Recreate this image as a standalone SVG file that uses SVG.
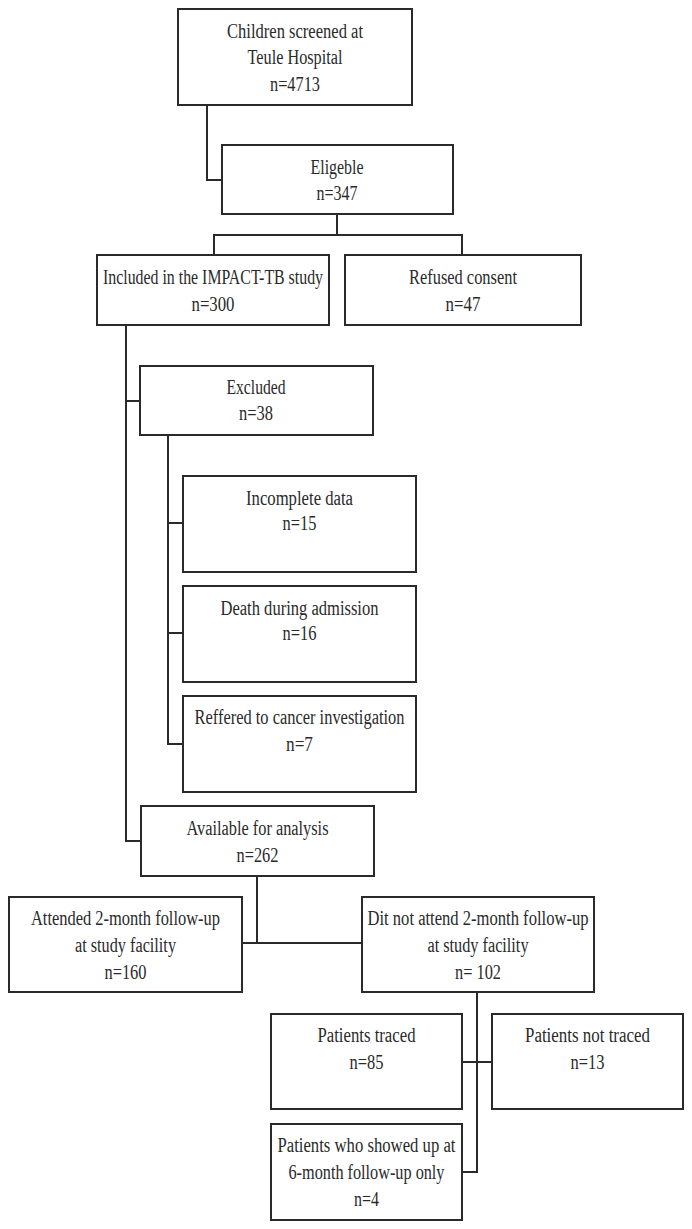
<svg xmlns="http://www.w3.org/2000/svg" width="692" height="1229" viewBox="0 0 692 1229">
<style>
.box{fill:#fff;stroke:#2a2a2a;stroke-width:2}
.ln{fill:none;stroke:#2a2a2a;stroke-width:2}
text{font-family:"Liberation Serif","Times New Roman",serif;font-size:20px;fill:#2a2a2a;text-anchor:middle}
</style>
<rect width="692" height="1229" fill="#fff"/>
<g id="connectors">
<polyline class="ln" points="207,105 207,180 222,180"/>
<polyline class="ln" points="337,214 337,235"/>
<polyline class="ln" points="214,255 214,235 462,235 462,255"/>
<polyline class="ln" points="126,325 126,841 141,841"/>
<polyline class="ln" points="126,401 140,401"/>
<polyline class="ln" points="168,435 168,744 183,744"/>
<polyline class="ln" points="168,523 183,523"/>
<polyline class="ln" points="168,633 183,633"/>
<polyline class="ln" points="257,876 257,943"/>
<polyline class="ln" points="242,943 362,943"/>
<polyline class="ln" points="477,992 477,1172 462,1172"/>
<polyline class="ln" points="462,1062 492,1062"/>
</g>
<g id="screened">
<rect class="box" x="178" y="9" width="234" height="96"/>
<text x="295" y="38" textLength="136" lengthAdjust="spacingAndGlyphs">Children screened at</text>
<text x="295" y="64" textLength="95" lengthAdjust="spacingAndGlyphs">Teule Hospital</text>
<text x="295" y="91" textLength="50" lengthAdjust="spacingAndGlyphs">n=4713</text>
</g>
<g id="eligible">
<rect class="box" x="222" y="145" width="231" height="69"/>
<text x="337" y="174" textLength="53" lengthAdjust="spacingAndGlyphs">Eligeble</text>
<text x="337" y="200" textLength="41" lengthAdjust="spacingAndGlyphs">n=347</text>
</g>
<g id="included">
<rect class="box" x="97" y="255" width="232" height="70"/>
<text x="213" y="284" textLength="220" lengthAdjust="spacingAndGlyphs">Included in the IMPACT-TB study</text>
<text x="213" y="311" textLength="43" lengthAdjust="spacingAndGlyphs">n=300</text>
</g>
<g id="refused">
<rect class="box" x="345" y="255" width="236" height="70"/>
<text x="463" y="284" textLength="108" lengthAdjust="spacingAndGlyphs">Refused consent</text>
<text x="463" y="311" textLength="35" lengthAdjust="spacingAndGlyphs">n=47</text>
</g>
<g id="excluded">
<rect class="box" x="140" y="366" width="233" height="69"/>
<text x="256" y="394" textLength="59" lengthAdjust="spacingAndGlyphs">Excluded</text>
<text x="256" y="420" textLength="34" lengthAdjust="spacingAndGlyphs">n=38</text>
</g>
<g id="incomplete">
<rect class="box" x="183" y="476" width="233" height="96"/>
<text x="299.5" y="505" textLength="107" lengthAdjust="spacingAndGlyphs">Incomplete data</text>
<text x="299.5" y="530" textLength="34" lengthAdjust="spacingAndGlyphs">n=15</text>
</g>
<g id="death">
<rect class="box" x="183" y="586" width="233" height="96"/>
<text x="299.5" y="615" textLength="158" lengthAdjust="spacingAndGlyphs">Death during admission</text>
<text x="299.5" y="640" textLength="34" lengthAdjust="spacingAndGlyphs">n=16</text>
</g>
<g id="referred">
<rect class="box" x="183" y="696" width="233" height="96"/>
<text x="299.5" y="724" textLength="210" lengthAdjust="spacingAndGlyphs">Reffered to cancer investigation</text>
<text x="299.5" y="751" textLength="27" lengthAdjust="spacingAndGlyphs">n=7</text>
</g>
<g id="available">
<rect class="box" x="141" y="806" width="233" height="70"/>
<text x="257.5" y="835" textLength="142" lengthAdjust="spacingAndGlyphs">Available for analysis</text>
<text x="257.5" y="862" textLength="42" lengthAdjust="spacingAndGlyphs">n=262</text>
</g>
<g id="attended">
<rect class="box" x="9" y="897" width="233" height="95"/>
<text x="125.5" y="925" textLength="189" lengthAdjust="spacingAndGlyphs">Attended 2-month follow-up</text>
<text x="125.5" y="952" textLength="101" lengthAdjust="spacingAndGlyphs">at study facility</text>
<text x="125.5" y="979" textLength="42" lengthAdjust="spacingAndGlyphs">n=160</text>
</g>
<g id="notattended">
<rect class="box" x="362" y="897" width="232" height="95"/>
<text x="478" y="925" textLength="221" lengthAdjust="spacingAndGlyphs">Dit not attend 2-month follow-up</text>
<text x="478" y="952" textLength="101" lengthAdjust="spacingAndGlyphs">at study facility</text>
<text x="478" y="979" textLength="46" lengthAdjust="spacingAndGlyphs">n= 102</text>
</g>
<g id="traced">
<rect class="box" x="271" y="1014" width="191" height="95"/>
<text x="366.5" y="1042" textLength="98" lengthAdjust="spacingAndGlyphs">Patients traced</text>
<text x="366.5" y="1069" textLength="34" lengthAdjust="spacingAndGlyphs">n=85</text>
</g>
<g id="nottraced">
<rect class="box" x="492" y="1014" width="191" height="95"/>
<text x="587.5" y="1042" textLength="125" lengthAdjust="spacingAndGlyphs">Patients not traced</text>
<text x="587.5" y="1069" textLength="34" lengthAdjust="spacingAndGlyphs">n=13</text>
</g>
<g id="sixmonth">
<rect class="box" x="271" y="1124" width="191" height="96"/>
<text x="366.5" y="1152" textLength="178" lengthAdjust="spacingAndGlyphs">Patients who showed up at</text>
<text x="366.5" y="1179" textLength="156" lengthAdjust="spacingAndGlyphs">6-month follow-up only</text>
<text x="366.5" y="1206" textLength="25" lengthAdjust="spacingAndGlyphs">n=4</text>
</g>
</svg>
